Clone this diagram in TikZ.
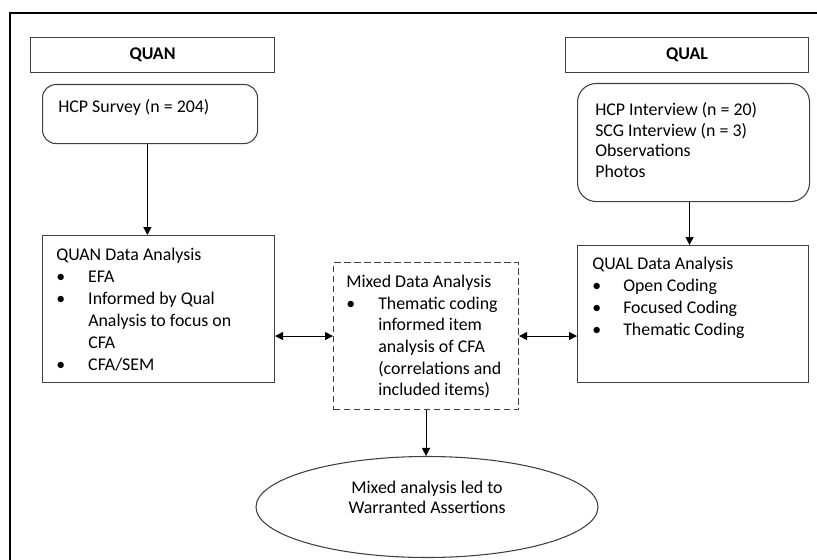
\documentclass[tikz,border=0pt]{standalone}
\usepackage{fontspec}
\setmainfont{Carlito}
\usetikzlibrary{arrows.meta,shapes.geometric}
\newcommand{\px}{0.75pt}
\newlength{\pxl}
\setlength{\pxl}{0.75pt}
\newcommand{\bitem}[2][30]{\makebox[#1\pxl][l]{\textbullet}#2}
\newcommand{\bind}[1][30]{\hspace*{#1\pxl}}

\begin{document}
\begin{tikzpicture}[x=0.75pt, y=-0.75pt,
  box/.style={draw=black!75, line width=0.8pt, inner sep=0pt, anchor=north west},
  txt/.style={inner sep=0pt, anchor=north west, align=left, font=\fontsize{13.4}{16.5}\selectfont},
  arr/.style={-{Triangle[length=6pt,width=6pt]}, line width=0.8pt},
  twoarr/.style={{Triangle[length=6pt,width=6pt]}-{Triangle[length=6pt,width=6pt]}, line width=0.8pt}]
\useasboundingbox (0,0) rectangle (817,560);
% frame
\draw[line width=1.5pt] (10,560) -- (10,13) -- (817,13);

% column heads
\node[box, minimum width=244*\px, minimum height=35*\px, font=\fontsize{13.4}{16.5}\selectfont\bfseries] (quan) at (30,37) {QUAN};
\node[box, minimum width=243*\px, minimum height=35*\px, font=\fontsize{13.4}{16.5}\selectfont\bfseries] (qual) at (565,37) {QUAL};

% data sources
\node[box, rounded corners=10pt, minimum width=215*\px, minimum height=59*\px] (survey) at (42,84) {};
\node[txt] at ([shift={(16,15)}]survey.north west) {HCP Survey (n = 204)};
\node[box, rounded corners=14pt, minimum width=232*\px, minimum height=118*\px] (sources) at (577,83) {};
\node[txt, font=\fontsize{13.4}{15.5}\selectfont] at ([shift={(18,19)}]sources.north west)
  {HCP Interview (n = 20)\\SCG Interview (n = 3)\\Observations\\Photos};

% analyses
\node[box, minimum width=232*\px, minimum height=147*\px] (quanbox) at (42,235) {};
\node[txt] at ([shift={(14,13)}]quanbox.north west)
  {QUAN Data Analysis\\\bitem[32]{EFA}\\\bitem[32]{Informed by Qual}\\\bind[32]Analysis to focus on\\\bind[32]CFA\\\bitem[32]{CFA/SEM}};
\node[box, dash pattern=on 5pt off 2.5pt, minimum width=185*\px, minimum height=147*\px] (mixbox) at (333,262) {};
\node[txt, font=\fontsize{13.4}{16.2}\selectfont] at ([shift={(13,13)}]mixbox.north west)
  {Mixed Data Analysis\\\bitem[32]{Thematic coding}\\\bind[32]informed item\\\bind[32]analysis of CFA\\\bind[32](correlations and\\\bind[32]included items)};
\node[box, minimum width=231*\px, minimum height=137*\px] (qualbox) at (577,245) {};
\node[txt] at ([shift={(15,12)}]qualbox.north west)
  {QUAL Data Analysis\\\bitem[31]{Open Coding}\\\bitem[31]{Focused Coding}\\\bitem[31]{Thematic Coding}};

% result
\node[draw=black!75, line width=0.8pt, ellipse, minimum width=342*\px, minimum height=101*\px] (warrant) at (427,507) {};
\node[txt, anchor=center, align=center, font=\fontsize{13.4}{15}\selectfont] at ([yshift=7pt]warrant.center)
  {Mixed analysis led to\\Warranted Assertions};

% connectors
\draw[arr] ([xshift=-2pt]survey.south) -- ([xshift=-2pt]survey.south |- quanbox.north);
\draw[arr] ([xshift=-3pt]sources.south) -- ([xshift=-3pt]sources.south |- qualbox.north);
\draw[twoarr] (mixbox.west -| quanbox.east) -- (mixbox.west);
\draw[twoarr] (mixbox.east) -- (mixbox.east -| qualbox.west);
\draw[arr] (mixbox.south) -- (mixbox.south |- warrant.north);
\end{tikzpicture}
\end{document}
